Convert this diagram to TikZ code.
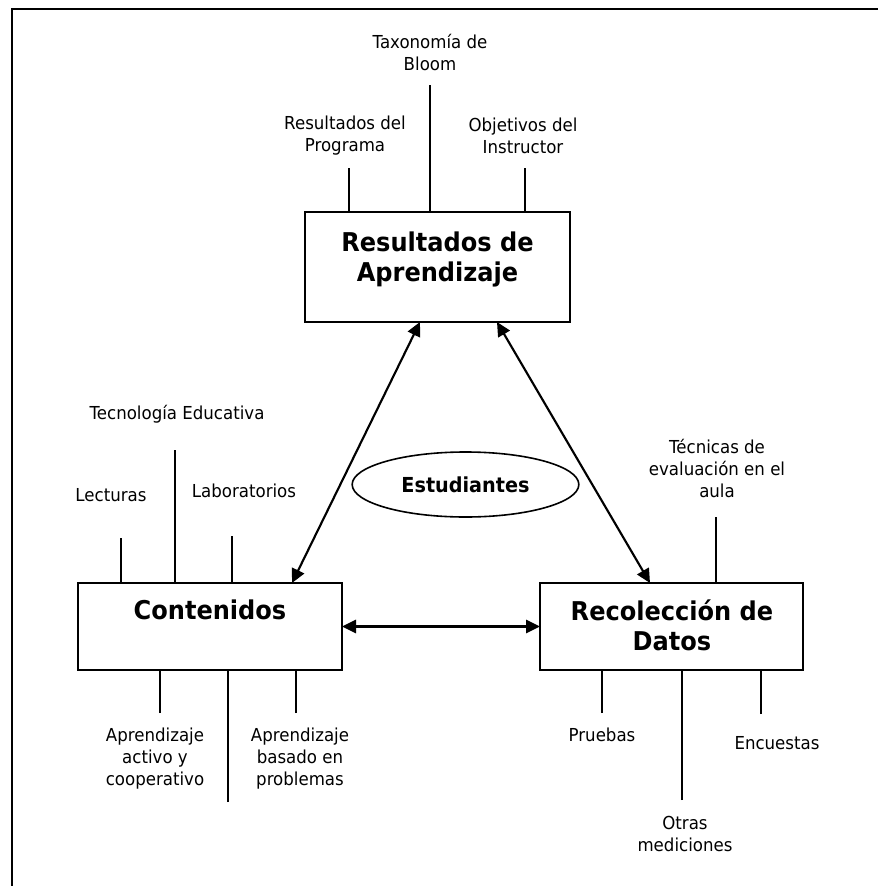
\documentclass[tikz,border=0pt]{standalone}
\usepackage{fontspec}
\setmainfont[FakeStretch=0.93]{DejaVu Sans}
\usepackage{tikz}
\usetikzlibrary{shapes,arrows.meta,positioning,calc}

\begin{document}
\begin{tikzpicture}[
    x=0.75pt, y=-0.75pt,
    mainbox/.style={draw, line width=1.5pt, outer sep=0pt, inner sep=0pt},
    title/.style={align=center, inner sep=0pt, font=\bfseries\fontsize{19.4}{22.5}\selectfont},
    item/.style={align=center, inner sep=0pt, font=\fontsize{13.4}{16.5}\selectfont},
    feed/.style={line width=1.3pt},
    arrow/.style={{Triangle[length=10.5pt,width=10pt]}-{Triangle[length=10.5pt,width=10pt]}, line width=1.6pt}
]
\clip (0,0) rectangle (878,886);

% Frame (cut off at right and bottom)
\draw[line width=1.6pt] (12,9) rectangle (900,900);

% Main boxes
\node[mainbox, minimum width=198.75pt, minimum height=82.5pt] (res) at (437.5,267) {};
\node[mainbox, minimum width=198pt, minimum height=65.25pt] (cont) at (210,626.5) {};
\node[mainbox, minimum width=197.25pt, minimum height=65.25pt] (rec) at (671.5,626.5) {};

\node[title] (restitle) at (437.5,259) {Resultados de\\Aprendizaje};
\node[title] (conttitle) at (210,610) {Contenidos};
\node[title] (rectitle) at (672,625) {Recolección de\\Datos};

% Students
\node[draw, ellipse, line width=1.2pt, minimum width=170pt, minimum height=48.75pt,
      font=\bfseries\fontsize{15.5}{17}\selectfont] (est) at (465.5,484.5) {Estudiantes};

% Arrows
\draw[arrow] ($(res.south)+(-17.5,0)$) -- ($(cont.north)+(82,0)$);
\draw[arrow] ($(res.south)+(59.5,0)$) -- ($(rec.north)+(-21.5,0)$);
\draw[arrow] (cont.east) -- (rec.west);

% Inputs of Resultados de Aprendizaje
\node[item] (tax) at (430,52) {Taxonomía de\\Bloom};
\node[item] (prog) at (345,136) {Resultados del\\Programa};
\node[item] (obj) at (523,136) {Objetivos del\\Instructor};
\coordinate (taxend) at (430,85);
\coordinate (progend) at (349,168);
\coordinate (objend) at (525,168);
\draw[feed] (taxend) -- (taxend |- res.north);
\draw[feed] (progend) -- (progend |- res.north);
\draw[feed] (objend) -- (objend |- res.north);

% Inputs of Contenidos
\node[item] (tec) at (177,414) {Tecnología Educativa};
\node[item] (lec) at (111,495) {Lecturas};
\node[item] (lab) at (244,491) {Laboratorios};
\node[item] (act) at (155,759) {Aprendizaje\\activo y\\cooperativo};
\node[item] (prob) at (300,759) {Aprendizaje\\basado en\\problemas};
\coordinate (tecend) at (175,450);
\coordinate (lecend) at (121,538);
\coordinate (labend) at (232,536);
\coordinate (actend) at (160,713);
\coordinate (midend) at (228,802);
\coordinate (probend) at (296,713);
\draw[feed] (tecend) -- (tecend |- cont.north);
\draw[feed] (lecend) -- (lecend |- cont.north);
\draw[feed] (labend) -- (labend |- cont.north);
\draw[feed] (actend) -- (actend |- cont.south);
\draw[feed] (midend) -- (midend |- cont.south);
\draw[feed] (probend) -- (probend |- cont.south);

% Inputs of Recoleccion de Datos
\node[item] (tecn) at (717,468) {Técnicas de\\evaluación en el\\aula};
\node[item] (pru) at (602,735) {Pruebas};
\node[item] (otr) at (685,834) {Otras\\mediciones};
\node[item] (enc) at (777,743) {Encuestas};
\coordinate (tecnend) at (716,517);
\coordinate (pruend) at (602,713);
\coordinate (otrend) at (682,800);
\coordinate (encend) at (761,714);
\draw[feed] (tecnend) -- (tecnend |- rec.north);
\draw[feed] (pruend) -- (pruend |- rec.south);
\draw[feed] (otrend) -- (otrend |- rec.south);
\draw[feed] (encend) -- (encend |- rec.south);

\end{tikzpicture}
\end{document}
